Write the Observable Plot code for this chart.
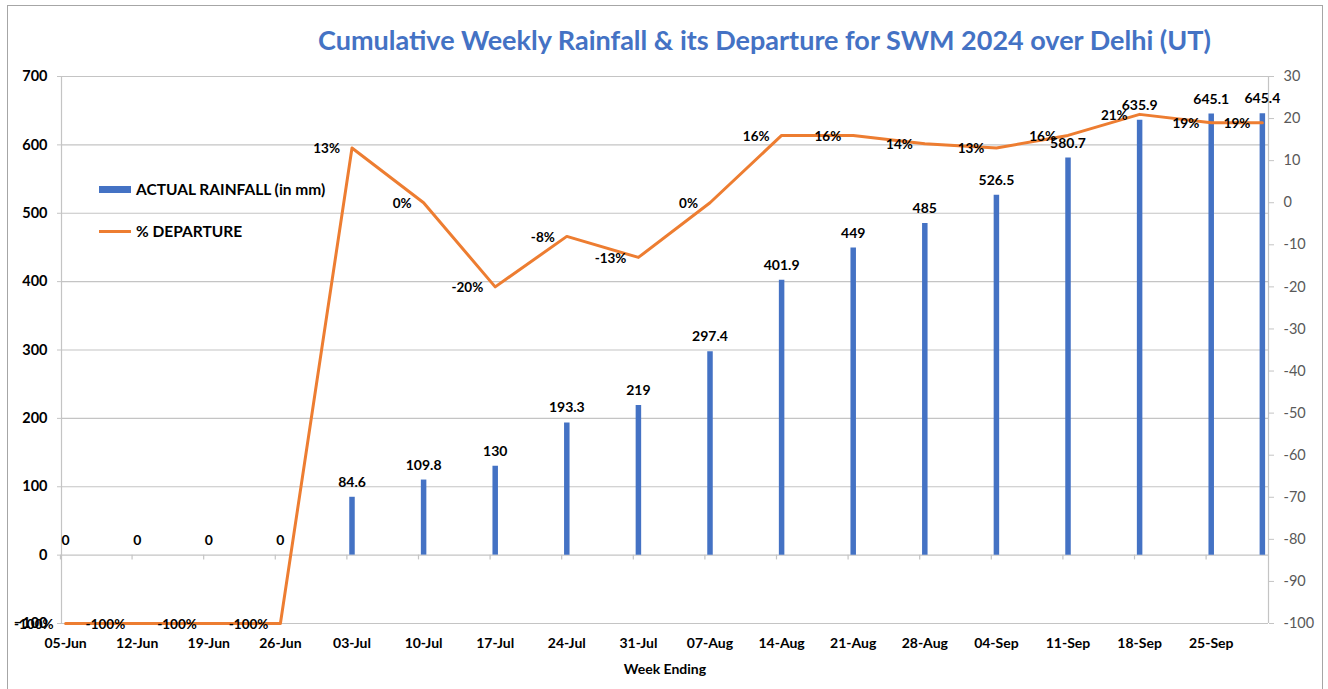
<!DOCTYPE html>
<html>
<head>
<meta charset="utf-8">
<script src="https://cdn.jsdelivr.net/npm/d3@7"></script>
<script src="https://cdn.jsdelivr.net/npm/@observablehq/plot@0.6"></script>
<style>
  html, body { margin: 0; padding: 0; background: #fff; }
  #wrap { position: relative; width: 1328px; height: 689px; overflow: hidden; font-family: Lato, "Open Sans", sans-serif; }
  #border { position: absolute; left: 7px; top: 5px; width: 1316px; height: 700px; border: 1.5px solid #a6a6a6; box-sizing: border-box; pointer-events: none; }
  #title { position: absolute; left: 0; top: 23px; width: 1328px; height: 40px; padding-left: 318px; box-sizing: border-box;
           color: #4472C4; font: bold 27px Lato, "Open Sans", sans-serif; white-space: nowrap; }
  #chart { position: absolute; left: 0; top: 60px; }
  .leg { position: absolute; left: 99px; font: bold 15.5px Lato, sans-serif; color: #000; display: flex; align-items: center; white-space: nowrap; }
  .sw { display: inline-block; width: 32px; margin-right: 5px; }
</style>
</head>
<body>
<div id="wrap">
  <div id="border"></div>
  <div id="title">Cumulative Weekly Rainfall &amp; its Departure for SWM 2024 over Delhi (UT)</div>
  <div id="chart"></div>
  <div class="leg" style="top:180px"><span class="sw" style="height:7px;background:#4472C4"></span>ACTUAL RAINFALL (in mm)</div>
  <div class="leg" style="top:222px"><span class="sw" style="height:3px;background:#ED7D31"></span>% DEPARTURE</div>
</div>
<script>
// ---- data ----
const weeks = ["2024-06-05","2024-06-12","2024-06-19","2024-06-26","2024-07-03","2024-07-10","2024-07-17","2024-07-24","2024-07-31","2024-08-07","2024-08-14","2024-08-21","2024-08-28","2024-09-04","2024-09-11","2024-09-18","2024-09-25","2024-09-30"];
const rainfall = [0,0,0,0,84.6,109.8,130,193.3,219,297.4,401.9,449,485,526.5,580.7,635.9,645.1,645.4];
const departure = [-100,-100,-100,-100,13,0,-20,-8,-13,0,16,16,14,13,16,21,19,19];
const xTickLabels = ["2024-06-05","2024-06-12","2024-06-19","2024-06-26","2024-07-03","2024-07-10","2024-07-17","2024-07-24","2024-07-31","2024-08-07","2024-08-14","2024-08-21","2024-08-28","2024-09-04","2024-09-11","2024-09-18","2024-09-25"];
const leftTicks = [-100,0,100,200,300,400,500,600,700];
const rightTicks = [-100,-90,-80,-70,-60,-50,-40,-30,-20,-10,0,10,20,30];

// ---- build ----
const DAY = 864e5;
const data = weeks.map((w, i) => ({date: new Date(w), rain: rainfall[i], dep: departure[i]}));
const toLeft = d => -100 + (d + 100) * 800 / 130;
const fromLeft = v => Math.round((v + 100) * 130 / 800 - 100);
const xTicks = xTickLabels.map(s => new Date(s));
const fmt = d3.utcFormat("%d-%b");
const first = data[0].date, last = data[data.length - 1].date;

const chart = Plot.plot({
  width: 1328,
  height: 629,
  marginTop: 16,
  marginBottom: 66,
  marginLeft: 61,
  marginRight: 60,
  style: {fontFamily: "Lato, 'Open Sans', sans-serif", fontSize: "14px", color: "#000", background: "transparent"},
  x: {type: "utc", domain: [new Date(+first - 0.4 * DAY), new Date(+last + 0.6 * DAY)]},
  y: {domain: [-100, 700]},
  marks: [
    Plot.ruleY(leftTicks, {stroke: "#c4c4c4", strokeWidth: 1.2}),
    Plot.ruleX([first], {x: () => new Date(+first - 0.4 * DAY), stroke: "#c4c4c4", strokeWidth: 1.2}),
    Plot.ruleX([last], {x: () => new Date(+last + 0.6 * DAY), stroke: "#c4c4c4", strokeWidth: 1.2}),
    Plot.ruleX(xTicks, {x: d => new Date(+d - 0.5 * DAY), y1: 0, y2: -7, stroke: "#c4c4c4", strokeWidth: 1.2}),
    Plot.ruleX(data, {x: "date", y1: 0, y2: "rain", stroke: "#4472C4", strokeWidth: 5.5}),
    Plot.line(data, {x: "date", y: d => toLeft(d.dep), stroke: "#ED7D31", strokeWidth: 3, strokeLinejoin: "round"}),
    Plot.text(data, {x: "date", y: "rain", text: d => String(d.rain), dy: -15, fontWeight: "bold", fontSize: 14, fill: "#000"}),
    Plot.text(data, {x: "date", y: d => toLeft(d.dep), text: d => d.dep + "%", textAnchor: "end", dx: -12, dy: 1, fontWeight: "bold", fontSize: 13.5, fill: "#000"}),
    Plot.axisY({ticks: leftTicks, tickSize: 4, tickPadding: 10, label: null, fontWeight: "bold", stroke: "#c4c4c4", fill: "#000", fontSize: 14.5}),
    Plot.axisY({anchor: "right", ticks: rightTicks.map(toLeft), tickFormat: fromLeft, tickSize: 5, tickPadding: 10, label: null, stroke: "#c4c4c4", fill: "#595959", fontSize: 14.5}),
    Plot.axisX({ticks: xTicks, tickFormat: fmt, tickSize: 0, tickPadding: 15, fontWeight: "bold", fill: "#000", fontSize: 14, label: "Week Ending", labelAnchor: "center", labelArrow: "none", labelOffset: 50})
  ]
});
document.getElementById("chart").append(chart);
</script>
</body>
</html>
